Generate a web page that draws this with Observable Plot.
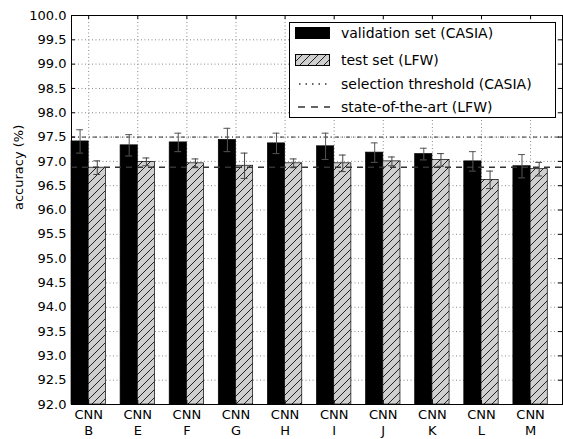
<!DOCTYPE html>
<html>
<head>
<meta charset="utf-8">
<script src="https://cdn.jsdelivr.net/npm/d3@7"></script>
<script src="https://cdn.jsdelivr.net/npm/@observablehq/plot@0.6"></script>
<style>
  html, body { margin: 0; padding: 0; background: white; }
  #wrap { position: relative; width: 563px; height: 439px; font-family: "DejaVu Sans", sans-serif; }
  #legend { position: absolute; left: 289px; top: 22px; width: 267px; height: 96px; border: 1px solid black; background: white; box-sizing: border-box; font-size: 14px; }
  .row { position: absolute; left: 0; height: 20px; display: flex; align-items: center; white-space: nowrap; }
  .row svg { margin-left: 5px; margin-right: 11px; }
</style>
</head>
<body>
<div id="wrap"></div>
<script>
const groups = ["B", "E", "F", "G", "H", "I", "J", "K", "L", "M"];
const valMean = [97.41, 97.33, 97.39, 97.44, 97.37, 97.31, 97.18, 97.15, 97.00, 96.90];
const valErr = [0.24, 0.22, 0.19, 0.24, 0.21, 0.27, 0.20, 0.12, 0.20, 0.24];
const testMean = [96.87, 96.99, 96.96, 96.91, 96.96, 96.96, 97.00, 97.03, 96.62, 96.84];
const testErr = [0.14, 0.08, 0.09, 0.26, 0.09, 0.17, 0.09, 0.13, 0.18, 0.14];
const threshold = 97.5;
const stateOfArt = 96.88;
const yTicks = [92.0, 92.5, 93.0, 93.5, 94.0, 94.5, 95.0, 95.5, 96.0, 96.5, 97.0, 97.5, 98.0, 98.5, 99.0, 99.5, 100.0];
const legendLabels = ["validation set (CASIA)", "test set (LFW)", "selection threshold (CASIA)", "state-of-the-art (LFW)"];

const W = 0.35; // bar width in group units
const val = groups.map((g, i) => ({g, i, mean: valMean[i], err: valErr[i]}));
const test = groups.map((g, i) => ({g, i, mean: testMean[i], err: testErr[i]}));
const xTicks = groups.map((g, i) => i + W);
const capHalf = 0.07;
const tickLenX = 0.08, tickLenY = 0.082;

const errMarks = (data, off, color) => [
  Plot.ruleX(data, {x: d => d.i + off, y1: d => d.mean - d.err, y2: d => d.mean + d.err, stroke: color, strokeWidth: 1}),
  Plot.ruleY(data, {y: d => d.mean + d.err, x1: d => d.i + off - capHalf, x2: d => d.i + off + capHalf, stroke: color, strokeWidth: 1}),
  Plot.ruleY(data, {y: d => d.mean - d.err, x1: d => d.i + off - capHalf, x2: d => d.i + off + capHalf, stroke: color, strokeWidth: 1})
];

const chart = Plot.plot({
  width: 563, height: 439,
  marginLeft: 71, marginRight: 1, marginTop: 15, marginBottom: 35,
  x: {domain: [0, 10]},
  y: {domain: [92, 100]},
  style: {fontFamily: "DejaVu Sans", fontSize: "13px", color: "black", background: "white"},
  marks: [
    Plot.ruleY(yTicks, {stroke: "#888", strokeDasharray: "1,2.5", strokeWidth: 1}),
    Plot.ruleX(xTicks, {stroke: "#888", strokeDasharray: "1,2.5", strokeWidth: 1}),
    Plot.rectY(val, {x1: d => d.i, x2: d => d.i + W, y1: 92, y2: "mean", fill: "black", stroke: "black", strokeWidth: 0.7}),
    Plot.rectY(test, {x1: d => d.i + W, x2: d => d.i + 2 * W, y1: 92, y2: "mean", fill: "url(#hatch)", stroke: "black", strokeWidth: 0.7}),
    Plot.ruleY([threshold], {stroke: "#333", strokeWidth: 1, strokeDasharray: "4,3,1,3"}),
    Plot.ruleY([stateOfArt], {stroke: "#333", strokeWidth: 1.5, strokeDasharray: "6,5"}),
    ...errMarks(val, W / 2, "#555"),
    ...errMarks(test, 1.5 * W, "#444"),
    // inward ticks
    Plot.ruleY(yTicks, {x1: 0, x2: tickLenX, stroke: "black"}),
    Plot.ruleY(yTicks, {x1: 10 - tickLenX, x2: 10, stroke: "black"}),
    Plot.ruleX(xTicks, {y1: 92, y2: 92 + tickLenY, stroke: "black"}),
    Plot.ruleX(xTicks, {y1: 100 - tickLenY, y2: 100, stroke: "black"}),
    Plot.axisY({ticks: yTicks, tickFormat: d3.format(".1f"), tickSize: 0, tickPadding: 5, label: null}),
    Plot.axisX({ticks: xTicks, tickFormat: d => "CNN\n" + groups[Math.round(d - W)], tickSize: 0, tickPadding: 2, lineHeight: 1.3, label: null}),
    Plot.text(["accuracy (%)"], {frameAnchor: "left", text: d => d, rotate: -90, dx: -53, fontSize: 13}),
    Plot.frame({stroke: "black", strokeWidth: 1})
  ]
});

const ns = "http://www.w3.org/2000/svg";
const defs = document.createElementNS(ns, "defs");
defs.innerHTML = `<pattern id="hatch" patternUnits="userSpaceOnUse" width="8" height="8">
  <rect width="8" height="8" fill="#cfcfcf"></rect>
  <path d="M-2,2 L2,-2 M0,8 L8,0 M6,10 L10,6" stroke="#222" stroke-width="1"></path>
</pattern>`;
chart.insertBefore(defs, chart.firstChild);

const wrap = document.getElementById("wrap");
wrap.appendChild(chart);

// legend
const legend = document.createElement("div");
legend.id = "legend";
const swatches = [
  `<svg width="35" height="12"><rect x="0.5" y="0.5" width="34" height="11" fill="black" stroke="black"/></svg>`,
  `<svg width="35" height="12"><defs><pattern id="hatch2" patternUnits="userSpaceOnUse" width="8" height="8"><rect width="8" height="8" fill="#cfcfcf"/><path d="M-2,2 L2,-2 M0,8 L8,0 M6,10 L10,6" stroke="#222" stroke-width="1"/></pattern></defs><rect x="0.5" y="0.5" width="34" height="11" fill="url(#hatch2)" stroke="black"/></svg>`,
  `<svg width="35" height="12"><line x1="4" x2="35" y1="6" y2="6" stroke="#333" stroke-width="1.5" stroke-dasharray="1.5,5"/></svg>`,
  `<svg width="35" height="12"><line x1="3" x2="35" y1="6" y2="6" stroke="#333" stroke-width="1.5" stroke-dasharray="7,6"/></svg>`
];
const rowTops = [0, 27, 51, 74];
legendLabels.forEach((lab, k) => {
  const r = document.createElement("div");
  r.className = "row";
  r.style.top = rowTops[k] + "px";
  r.innerHTML = swatches[k] + `<span>${lab}</span>`;
  legend.appendChild(r);
});
wrap.appendChild(legend);
</script>
</body>
</html>
